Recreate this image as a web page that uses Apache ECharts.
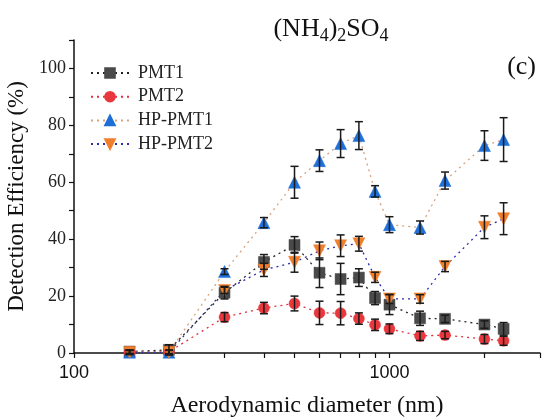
<!DOCTYPE html>
<html><head><meta charset="utf-8">
<script src="https://cdn.jsdelivr.net/npm/echarts@6/dist/echarts.min.js"></script>
<style>html,body{margin:0;padding:0;background:#fff}#c{width:544px;height:420px}</style>
</head><body><div id="c"></div>
<script>
const diameters = [150,200,300,400,500,600,700,800,900,1000,1250,1500,2000,2300];
const pmt1 = [0.5,1.1,21.2,32.0,38.0,28.2,26.0,26.5,19.3,17.0,12.2,12.0,10.0,8.5];
const pmt1Err = [0.6,1.8,2.2,2.6,2.9,5.2,5.5,3.1,2.3,3.5,2.5,1.3,1.3,2.2];
const pmt2 = [0.3,0.4,12.6,15.8,17.4,14.1,14.0,12.1,9.9,8.5,6.0,6.3,4.9,4.3];
const pmt2Err = [0.6,0.6,1.6,2.0,2.6,4.1,4.1,2.0,2.0,1.7,1.6,1.3,1.6,1.6];
const hpPmt1 = [0.3,0.3,28.6,45.8,60.0,67.6,73.6,76.4,56.8,45.1,44.1,60.6,72.9,75.0];
const hpPmt1Err = [0.6,0.6,1.0,1.8,5.6,3.8,4.9,4.9,2.0,2.8,2.3,3.0,5.2,7.7];
const hpPmt2 = [0.2,0.2,22.0,29.2,31.9,35.9,37.7,38.4,26.6,19.0,19.0,30.4,44.2,47.2];
const hpPmt2Err = [0.8,0.8,1.1,2.3,3.5,3.1,3.8,2.6,1.8,1.6,1.5,1.8,4.0,5.6];
const xTickValues = [100,200,300,400,500,600,700,800,900,1000,2000,3000];
const xLabelValues = [100,1000];
const yLabelValues = [0,20,40,60,80,100];
const seriesNames = ['PMT1','PMT2','HP-PMT1','HP-PMT2'];

const serif = 'Liberation Serif';
const sans = 'Liberation Sans';

function pairs(vals){ return diameters.map((d,i)=>[d, vals[i]]); }
function triples(vals, errs){ return diameters.map((d,i)=>[d, vals[i], errs[i]]); }

function errSeries(vals, errs, z){
  return {
    type:'custom', z:z, silent:true,
    data: triples(vals, errs),
    encode:{x:0,y:1},
    renderItem:function(params, api){
      const x = api.value(0), y = api.value(1), e = api.value(2);
      const top = api.coord([x, y+e]);
      const bot = api.coord([x, y-e]);
      const hw = 4;
      const st = {stroke:'#1a1a1a', lineWidth:1.5};
      return {type:'group', children:[
        {type:'line', shape:{x1:top[0],y1:top[1],x2:bot[0],y2:bot[1]}, style:st},
        {type:'line', shape:{x1:top[0]-hw,y1:top[1],x2:top[0]+hw,y2:top[1]}, style:st},
        {type:'line', shape:{x1:bot[0]-hw,y1:bot[1],x2:bot[0]+hw,y2:bot[1]}, style:st}
      ]};
    }
  };
}

function lineSeries(name, vals, sym, size, fill, lineColor, rotate, z){
  return {
    name:name, type:'line', z:z,
    data: pairs(vals),
    symbol: sym, symbolSize: size, symbolRotate: rotate||0,
    showAllSymbol:true,
    itemStyle:{color:fill, borderColor:fill, borderWidth:0.5, opacity:1},
    lineStyle:{color:lineColor, width:1.3, type:[2,4]},
    emphasis:{disabled:true}
  };
}

const chart = echarts.init(document.getElementById('c'), null, {renderer:'canvas'});
chart.setOption({
  animation:false,
  backgroundColor:'#fff',
  title:[{
    text:'(NH{sub|4}){sub|2}SO{sub|4}',
    left:326, top:8, textAlign:'center',
    textStyle:{fontFamily:serif, fontSize:26, color:'#111', fontWeight:'normal',
      rich:{sub:{fontFamily:serif, fontSize:18, color:'#111', padding:[14,0,0,0]}}}
  },{
    text:'(c)', right:3, top:49,
    textStyle:{fontFamily:serif, fontSize:26, color:'#111', fontWeight:'normal'}
  }],
  legend:{
    data:seriesNames, orient:'vertical', left:90, top:64, padding:0,
    itemWidth:38, itemHeight:12, itemGap:5.7,
    textStyle:{fontFamily:serif, fontSize:18, color:'#222', padding:[0,0,0,4]},
    selectedMode:false
  },
  grid:{left:74, right:4, top:40, bottom:67, containLabel:false, outerBoundsMode:'none'},
  xAxis:{
    type:'log', logBase:10, min:100, max:3000,
    name:'Aerodynamic diameter (nm)', nameLocation:'middle', nameGap:41,
    nameTextStyle:{fontFamily:serif, fontSize:24, color:'#111'},
    axisLine:{lineStyle:{color:'#111', width:1.5}},
    axisTick:{show:true, inside:false, length:5, lineStyle:{color:'#111', width:1.2}, customValues:xTickValues},
    axisLabel:{fontFamily:sans, fontSize:18, color:'#111', margin:11, customValues:xLabelValues,
      formatter:function(v){ return String(Math.round(v)); }},
    minorTick:{show:false},
    splitLine:{show:false}
  },
  yAxis:{
    type:'value', min:0, max:110, interval:10,
    name:'Detection Efficiency (%)', nameLocation:'middle', nameGap:41,
    nameTextStyle:{fontFamily:serif, fontSize:23, color:'#111'},
    axisLine:{show:true, lineStyle:{color:'#111', width:1.5}},
    axisTick:{show:true, inside:false, length:5, lineStyle:{color:'#111', width:1.2}},
    axisLabel:{fontFamily:serif, fontSize:18, color:'#222', margin:8,
      formatter:function(v){ return yLabelValues.indexOf(v) >= 0 ? String(v) : ''; }},
    splitLine:{show:false}
  },
  series:[
    lineSeries('PMT1', pmt1, 'rect', 11, '#4a4a4a', '#222', 0, 3),
    lineSeries('PMT2', pmt2, 'circle', 11, '#e8383d', '#e03040', 0, 3),
    lineSeries('HP-PMT1', hpPmt1, 'triangle', 12, '#1f6fd8', '#d9a27c', 0, 3),
    lineSeries('HP-PMT2', hpPmt2, 'triangle', 12, '#f07f2c', '#2b2bb0', 180, 3),
    errSeries(pmt1, pmt1Err, 5),
    errSeries(pmt2, pmt2Err, 5),
    errSeries(hpPmt1, hpPmt1Err, 5),
    errSeries(hpPmt2, hpPmt2Err, 5)
  ]
});
</script></body></html>
